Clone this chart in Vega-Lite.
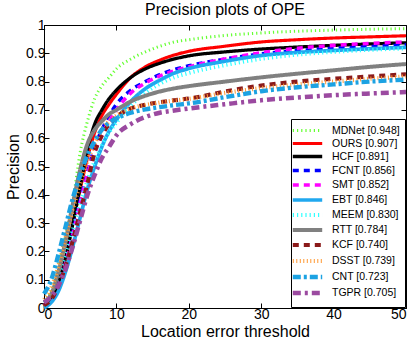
{
  "$schema": "https://vega.github.io/schema/vega-lite/v6.json",
  "width": 416,
  "height": 344,
  "autosize": {"type": "fit", "contains": "padding"},
  "padding": {"left": 5, "top": 2, "right": 1, "bottom": 5},
  "background": "white",
  "title": {"text": "Precision plots of OPE", "fontSize": 16, "fontWeight": "normal", "font": "Liberation Sans", "color": "black", "offset": 0},
  "config": {
    "font": "Liberation Sans",
    "view": {"stroke": "black", "strokeWidth": 1},
    "axis": {"labelFont": "Liberation Sans", "titleFont": "Liberation Sans", "labelColor": "black", "titleColor": "black", "domainColor": "black", "tickColor": "black", "grid": false, "labelFontSize": 14, "titleFontSize": 16, "titleFontWeight": "normal", "tickSize": -5, "labelPadding": 4}
  },
  "datasets": {
    "curves": [
      {"x": 0, "MDNet": 0.02, "OURS": 0.01, "HCF": 0.01, "FCNT": 0.01, "SMT": 0.01, "EBT": 0.0, "MEEM": 0.02, "RTT": 0.02, "KCF": 0.01, "DSST": 0.03, "CNT": 0.05, "TGPR": 0.02},
      {"x": 1, "MDNet": 0.06, "OURS": 0.03, "HCF": 0.03, "FCNT": 0.03, "SMT": 0.03, "EBT": 0.02, "MEEM": 0.05, "RTT": 0.05, "KCF": 0.03, "DSST": 0.07, "CNT": 0.10, "TGPR": 0.04},
      {"x": 2, "MDNet": 0.15, "OURS": 0.09, "HCF": 0.09, "FCNT": 0.08, "SMT": 0.08, "EBT": 0.06, "MEEM": 0.11, "RTT": 0.13, "KCF": 0.08, "DSST": 0.15, "CNT": 0.19, "TGPR": 0.08},
      {"x": 3, "MDNet": 0.26, "OURS": 0.18, "HCF": 0.18, "FCNT": 0.16, "SMT": 0.16, "EBT": 0.13, "MEEM": 0.19, "RTT": 0.24, "KCF": 0.15, "DSST": 0.25, "CNT": 0.29, "TGPR": 0.14},
      {"x": 4, "MDNet": 0.38, "OURS": 0.30, "HCF": 0.30, "FCNT": 0.27, "SMT": 0.26, "EBT": 0.22, "MEEM": 0.28, "RTT": 0.37, "KCF": 0.24, "DSST": 0.35, "CNT": 0.39, "TGPR": 0.22},
      {"x": 5, "MDNet": 0.55, "OURS": 0.42, "HCF": 0.43, "FCNT": 0.38, "SMT": 0.37, "EBT": 0.32, "MEEM": 0.37, "RTT": 0.49, "KCF": 0.34, "DSST": 0.44, "CNT": 0.47, "TGPR": 0.31},
      {"x": 6, "MDNet": 0.66, "OURS": 0.53, "HCF": 0.56, "FCNT": 0.48, "SMT": 0.47, "EBT": 0.42, "MEEM": 0.45, "RTT": 0.58, "KCF": 0.44, "DSST": 0.52, "CNT": 0.54, "TGPR": 0.40},
      {"x": 7, "MDNet": 0.74, "OURS": 0.62, "HCF": 0.65, "FCNT": 0.57, "SMT": 0.55, "EBT": 0.50, "MEEM": 0.52, "RTT": 0.63, "KCF": 0.55, "DSST": 0.58, "CNT": 0.59, "TGPR": 0.47},
      {"x": 8, "MDNet": 0.785, "OURS": 0.68, "HCF": 0.70, "FCNT": 0.63, "SMT": 0.61, "EBT": 0.57, "MEEM": 0.575, "RTT": 0.66, "KCF": 0.61, "DSST": 0.63, "CNT": 0.63, "TGPR": 0.53},
      {"x": 9, "MDNet": 0.815, "OURS": 0.72, "HCF": 0.74, "FCNT": 0.68, "SMT": 0.66, "EBT": 0.625, "MEEM": 0.62, "RTT": 0.685, "KCF": 0.65, "DSST": 0.66, "CNT": 0.655, "TGPR": 0.57},
      {"x": 10, "MDNet": 0.845, "OURS": 0.755, "HCF": 0.77, "FCNT": 0.72, "SMT": 0.70, "EBT": 0.665, "MEEM": 0.655, "RTT": 0.70, "KCF": 0.675, "DSST": 0.68, "CNT": 0.67, "TGPR": 0.61},
      {"x": 12, "MDNet": 0.88, "OURS": 0.815, "HCF": 0.815, "FCNT": 0.77, "SMT": 0.76, "EBT": 0.73, "MEEM": 0.715, "RTT": 0.73, "KCF": 0.705, "DSST": 0.705, "CNT": 0.69, "TGPR": 0.65},
      {"x": 14, "MDNet": 0.905, "OURS": 0.852, "HCF": 0.845, "FCNT": 0.80, "SMT": 0.795, "EBT": 0.775, "MEEM": 0.76, "RTT": 0.75, "KCF": 0.718, "DSST": 0.717, "CNT": 0.702, "TGPR": 0.675},
      {"x": 16, "MDNet": 0.925, "OURS": 0.876, "HCF": 0.865, "FCNT": 0.825, "SMT": 0.82, "EBT": 0.805, "MEEM": 0.792, "RTT": 0.765, "KCF": 0.727, "DSST": 0.726, "CNT": 0.71, "TGPR": 0.69},
      {"x": 18, "MDNet": 0.94, "OURS": 0.894, "HCF": 0.88, "FCNT": 0.843, "SMT": 0.838, "EBT": 0.83, "MEEM": 0.815, "RTT": 0.776, "KCF": 0.734, "DSST": 0.733, "CNT": 0.717, "TGPR": 0.698},
      {"x": 20, "MDNet": 0.948, "OURS": 0.907, "HCF": 0.891, "FCNT": 0.856, "SMT": 0.852, "EBT": 0.846, "MEEM": 0.83, "RTT": 0.784, "KCF": 0.74, "DSST": 0.739, "CNT": 0.723, "TGPR": 0.705},
      {"x": 25, "MDNet": 0.963, "OURS": 0.925, "HCF": 0.905, "FCNT": 0.88, "SMT": 0.88, "EBT": 0.872, "MEEM": 0.858, "RTT": 0.80, "KCF": 0.765, "DSST": 0.76, "CNT": 0.745, "TGPR": 0.72},
      {"x": 30, "MDNet": 0.972, "OURS": 0.94, "HCF": 0.915, "FCNT": 0.898, "SMT": 0.902, "EBT": 0.892, "MEEM": 0.88, "RTT": 0.815, "KCF": 0.786, "DSST": 0.777, "CNT": 0.766, "TGPR": 0.734},
      {"x": 35, "MDNet": 0.978, "OURS": 0.948, "HCF": 0.922, "FCNT": 0.91, "SMT": 0.918, "EBT": 0.903, "MEEM": 0.895, "RTT": 0.828, "KCF": 0.80, "DSST": 0.79, "CNT": 0.78, "TGPR": 0.744},
      {"x": 40, "MDNet": 0.982, "OURS": 0.954, "HCF": 0.928, "FCNT": 0.918, "SMT": 0.928, "EBT": 0.91, "MEEM": 0.905, "RTT": 0.84, "KCF": 0.81, "DSST": 0.80, "CNT": 0.79, "TGPR": 0.752},
      {"x": 45, "MDNet": 0.985, "OURS": 0.958, "HCF": 0.933, "FCNT": 0.924, "SMT": 0.935, "EBT": 0.916, "MEEM": 0.912, "RTT": 0.852, "KCF": 0.818, "DSST": 0.81, "CNT": 0.80, "TGPR": 0.758},
      {"x": 50, "MDNet": 0.987, "OURS": 0.962, "HCF": 0.937, "FCNT": 0.93, "SMT": 0.94, "EBT": 0.921, "MEEM": 0.917, "RTT": 0.862, "KCF": 0.826, "DSST": 0.818, "CNT": 0.807, "TGPR": 0.763}
    ],
    "labels": [
      {"k": "MDNet", "label": "MDNet [0.948]"},
      {"k": "OURS", "label": "OURS [0.907]"},
      {"k": "HCF", "label": "HCF [0.891]"},
      {"k": "FCNT", "label": "FCNT [0.856]"},
      {"k": "SMT", "label": "SMT [0.852]"},
      {"k": "EBT", "label": "EBT [0.846]"},
      {"k": "MEEM", "label": "MEEM [0.830]"},
      {"k": "RTT", "label": "RTT [0.784]"},
      {"k": "KCF", "label": "KCF [0.740]"},
      {"k": "DSST", "label": "DSST [0.739]"},
      {"k": "CNT", "label": "CNT [0.723]"},
      {"k": "TGPR", "label": "TGPR [0.705]"}
    ]
  },
  "data": {"name": "curves"},
  "transform": [
    {"fold": ["MDNet", "OURS", "HCF", "FCNT", "SMT", "EBT", "MEEM", "RTT", "KCF", "DSST", "CNT", "TGPR"], "as": ["k", "y"]},
    {"lookup": "k", "from": {"data": {"name": "labels"}, "key": "k", "fields": ["label"]}}
  ],
  "layer": [
    {
      "mark": {"type": "line", "interpolate": "monotone", "strokeCap": "butt"},
      "encoding": {
        "x": {"field": "x", "type": "quantitative", "scale": {"domain": [0, 50], "nice": false}, "axis": {"orient": "bottom", "values": [0, 10, 20, 30, 40, 50], "title": "Location error threshold", "titlePadding": 2}},
        "y": {"field": "y", "type": "quantitative", "scale": {"domain": [0, 1], "nice": false}, "axis": {"orient": "left", "values": [0, 0.1, 0.2, 0.3, 0.4, 0.5, 0.6, 0.7, 0.8, 0.9, 1], "format": "~g", "title": "Precision", "titlePadding": 4}},
        "color": {"field": "label", "type": "nominal", "scale": {"domain": ["MDNet [0.948]", "OURS [0.907]", "HCF [0.891]", "FCNT [0.856]", "SMT [0.852]", "EBT [0.846]", "MEEM [0.830]", "RTT [0.784]", "KCF [0.740]", "DSST [0.739]", "CNT [0.723]", "TGPR [0.705]"], "range": ["#66ff33", "#ff0000", "#000000", "#0000ff", "#ff00ff", "#20a8ef", "#33ffff", "#808080", "#8b1a1a", "#ff9933", "#1ca2e2", "#9b4aa0"]}, "legend": {"title": null, "orient": "bottom-right", "offset": 1, "symbolType": "M-3.1,0H3.1", "symbolSize": 90, "symbolStrokeWidth": 4, "symbolOffset": 4.5, "labelFontSize": 10.5, "labelFont": "Liberation Sans", "labelColor": "black", "rowPadding": -3.2, "padding": 5, "strokeColor": "black", "fillColor": "white", "cornerRadius": 0, "labelOffset": 17.5}},
        "strokeDash": {"field": "label", "type": "nominal", "scale": {"domain": ["MDNet [0.948]", "OURS [0.907]", "HCF [0.891]", "FCNT [0.856]", "SMT [0.852]", "EBT [0.846]", "MEEM [0.830]", "RTT [0.784]", "KCF [0.740]", "DSST [0.739]", "CNT [0.723]", "TGPR [0.705]"], "range": [[1.2, 3], [1, 0], [1, 0], [6, 5], [6, 5], [1, 0], [1.2, 3], [1, 0], [6, 5], [1, 2.5], [8, 3, 3, 3], [8, 4, 3, 4]]}, "legend": null},
        "strokeWidth": {"field": "label", "type": "nominal", "scale": {"domain": ["MDNet [0.948]", "OURS [0.907]", "HCF [0.891]", "FCNT [0.856]", "SMT [0.852]", "EBT [0.846]", "MEEM [0.830]", "RTT [0.784]", "KCF [0.740]", "DSST [0.739]", "CNT [0.723]", "TGPR [0.705]"], "range": [3, 4.5, 4.5, 4, 4, 4.5, 3, 4.5, 4, 2, 4, 4]}, "legend": null}
      }
    },
    {
      "mark": {"type": "point", "opacity": 0},
      "encoding": {
        "x": {"field": "x", "type": "quantitative", "axis": {"orient": "top", "values": [0, 10, 20, 30, 40, 50], "labels": false, "title": null, "domain": false}},
        "y": {"field": "y", "type": "quantitative", "axis": {"orient": "right", "values": [0, 0.1, 0.2, 0.3, 0.4, 0.5, 0.6, 0.7, 0.8, 0.9, 1], "labels": false, "title": null, "domain": false}}
      }
    }
  ],
  "resolve": {"axis": {"x": "independent", "y": "independent"}}
}
